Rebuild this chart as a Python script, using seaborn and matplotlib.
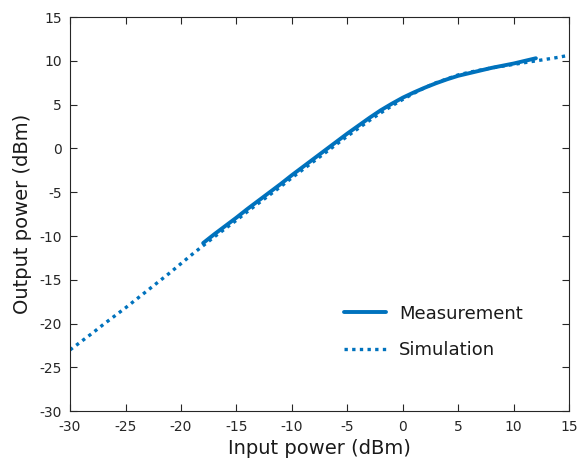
import numpy as np
import pandas as pd
import matplotlib
matplotlib.use("Agg")
import matplotlib.pyplot as plt
import seaborn as sns

# measured curve (dBm in -> dBm out)
meas_in = list(range(-18, 13))
meas_out = [-10.8, -9.8, -8.85, -7.9, -6.9, -5.95, -5.0, -4.05, -3.05, -2.1,
            -1.15, -0.2, 0.75, 1.7, 2.6, 3.5, 4.35, 5.1, 5.8, 6.4,
            6.95, 7.45, 7.9, 8.3, 8.6, 8.9, 9.2, 9.45, 9.7, 10.0, 10.3]

# simulated curve
sim_in = list(range(-30, 16))
sim_out = [-23.0, -22.05, -21.1, -20.1, -19.15, -18.2, -17.2, -16.2, -15.2, -14.2,
           -13.15, -12.1, -11.1, -10.1, -9.15, -8.2, -7.2, -6.25, -5.3, -4.35,
           -3.35, -2.4, -1.45, -0.5, 0.45, 1.4, 2.3, 3.2, 4.05, 4.85,
           5.6, 6.3, 6.95, 7.5, 7.95, 8.4, 8.7, 8.95, 9.2, 9.4,
           9.6, 9.8, 10.0, 10.2, 10.4, 10.65]

xticks = [-30, -25, -20, -15, -10, -5, 0, 5, 10, 15]
yticks = [-30, -25, -20, -15, -10, -5, 0, 5, 10, 15]

blue = "#0072BD"

sns.set_style("ticks")
plt.rcParams['font.family'] = ['DejaVu Sans']
plt.rcParams['axes.unicode_minus'] = False

meas = pd.DataFrame({"pin": meas_in, "pout": meas_out})
sim = pd.DataFrame({"pin": sim_in, "pout": sim_out})

fig = plt.figure(figsize=(5.79, 4.62), dpi=100)
ax = fig.add_axes([0.121, 0.110, 0.862, 0.853])

sns.lineplot(data=meas, x="pin", y="pout", ax=ax, color=blue, lw=2.8,
             label="Measurement")
sns.lineplot(data=sim, x="pin", y="pout", ax=ax, color=blue, lw=2.4,
             dashes=False, label="Simulation")
ax.lines[1].set_dashes((1, 1.3))

ax.set_xlim(-30, 15)
ax.set_ylim(-30, 15)
ax.set_xticks(xticks)
ax.set_yticks(yticks)
ax.tick_params(direction="in", top=True, right=True, length=5, width=0.8,
               labelsize=10, colors="#262626", pad=6)
for s in ax.spines.values():
    s.set_visible(True)
    s.set_color("#262626")
    s.set_linewidth(0.8)

ax.set_xlabel("Input power (dBm)", fontsize=14, color="#1a1a1a", labelpad=4)
ax.set_ylabel("Output power (dBm)", fontsize=14, color="#1a1a1a", labelpad=5)

leg = ax.legend(loc="lower right", bbox_to_anchor=(0.94, 0.09), frameon=False,
                fontsize=13, handlelength=2.3, labelspacing=1.05, handletextpad=0.75)
for t in leg.get_texts():
    t.set_color("#1a1a1a")

fig.savefig("out.png", dpi=100)
